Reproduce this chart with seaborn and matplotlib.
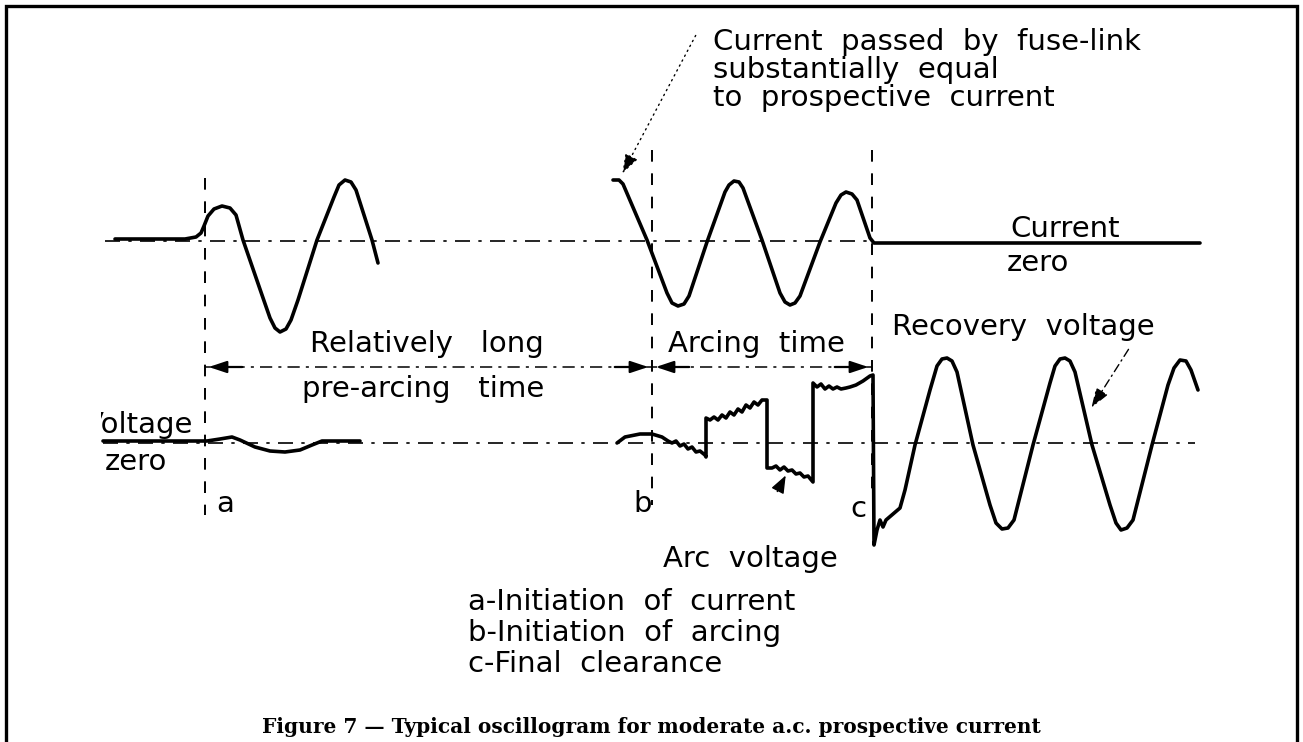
import numpy as np
import pandas as pd
import matplotlib
matplotlib.use("Agg")
import matplotlib.pyplot as plt
from matplotlib.patches import Rectangle
import seaborn as sns

# ---------------- DATA (time / level in drawing units) ----------------
# current before pre-arcing
cur1_t = [115, 150, 185, 196, 201, 204, 208, 214, 222, 230, 236, 243, 262, 270, 275, 280,
          286, 291, 298, 317, 334, 339, 345, 351, 356, 372, 378]
cur1_v = [239, 239, 239, 237, 233, 226, 216, 209, 206, 208, 215, 240, 295, 318, 328, 332,
          329, 320, 300, 240, 197, 185, 180, 182, 190, 240, 263]

# current during arcing, then current zero
cur2_t = [613, 619, 623, 647, 667, 672, 678, 684, 689, 707, 725, 729, 734, 739, 743, 762,
          780, 785, 790, 795, 800, 820, 836, 841, 846, 852, 857, 870, 874, 900, 1200]
cur2_v = [180, 180, 184, 240, 293, 303, 306, 304, 296, 242, 192, 185, 181, 182, 188, 240,
          293, 302, 305, 303, 296, 242, 203, 195, 192, 194, 200, 238, 243, 243, 243]

# voltage around initiation of current
volt1_t = [103, 207, 220, 232, 240, 255, 270, 285, 300, 312, 322, 360]
volt1_v = [441, 441, 439, 437, 440, 447, 451, 452, 450, 445, 441, 441]

# arc voltage and recovery voltage
volt2_t = [617, 625, 640, 652, 662, 668, 672, 676, 680, 684, 688, 692, 696, 700, 705, 706,
           706, 710, 714, 718, 722, 726, 730, 734, 738, 742, 746, 750, 754, 758, 762, 767,
           767, 772, 776, 780, 784, 788, 792, 796, 800, 804, 808, 813,
           813, 817, 821, 825, 829, 833, 837, 841, 846, 850, 856, 863, 870, 873,
           874, 877, 880, 883, 886, 893, 900, 905, 915, 930, 937, 942, 947, 952, 957,
           973, 990, 996, 1002, 1008, 1014, 1033, 1050, 1055, 1060, 1065, 1070, 1075,
           1092, 1110, 1116, 1121, 1127, 1133, 1152, 1168, 1174, 1180, 1186, 1191, 1198]
volt2_v = [443, 437, 434, 434, 437, 441, 443, 441, 446, 444, 449, 447, 452, 451, 455, 457,
           418, 420, 417, 420, 415, 418, 412, 415, 409, 412, 405, 408, 402, 405, 400, 400,
           468, 468, 466, 470, 467, 471, 470, 474, 473, 477, 476, 482,
           383, 387, 384, 389, 386, 389, 387, 389, 388, 387, 385, 381, 376, 375,
           545, 530, 520, 527, 520, 514, 508, 490, 445, 390, 366, 359, 358, 361, 372,
           445, 505, 523, 529, 528, 520, 445, 383, 366, 359, 358, 361, 372,
           445, 505, 523, 530, 528, 520, 445, 385, 368, 360, 361, 370, 390]

current_zero = 241
voltage_zero = 443
marks = ["a", "b", "c"]
mark_t = [205, 652, 872]
mark_top = [178, 150, 150]
mark_bottom = [515, 505, 500]
arrow_row = 367

notes_top = ["Current  passed  by  fuse-link", "substantially  equal", "to  prospective  current"]
legend_lines = ["a-Initiation  of  current", "b-Initiation  of  arcing", "c-Final  clearance"]
caption = "Figure 7 \u2014 Typical oscillogram for moderate a.c. prospective current"

# ---------------- FIGURE ----------------
sns.set_theme(style="white")
plt.rcParams["font.family"] = ["DejaVu Sans"]
plt.rcParams["text.color"] = "black"

fig = plt.figure(figsize=(13.03, 7.42), dpi=100)
ax = fig.add_axes([0, 0, 1, 1])
ax.set_xlim(0, 1303)
ax.set_ylim(742, 0)
ax.axis("off")

# frame
ax.plot([6, 6, 1297, 1297], [745, 6, 6, 745], color="black", lw=2.4, solid_joinstyle="miter")

# zero lines
ax.plot([105, 870], [current_zero, current_zero], color="black", lw=1.2, dashes=(9, 5, 2, 5))
ax.plot([103, 1195], [voltage_zero, voltage_zero], color="black", lw=1.2, dashes=(9, 5, 2, 5))

# marker verticals
for t, top, bot in zip(mark_t, mark_top, mark_bottom):
    ax.plot([t, t], [top, bot], color="black", lw=1.4, dashes=(6, 6))

# traces
trace_kw = dict(color="black", lw=2.6, sort=False, estimator=None, ax=ax)
sns.lineplot(x=cur1_t, y=cur1_v, **trace_kw)
sns.lineplot(x=cur2_t, y=cur2_v, **trace_kw)
sns.lineplot(x=volt1_t, y=volt1_v, **trace_kw)
sns.lineplot(x=volt2_t, y=volt2_v, **trace_kw)

# time spans
ax.plot([mark_t[0], mark_t[2]], [arrow_row, arrow_row], color="black", lw=1.1, dashes=(8, 4, 2, 4))
head = dict(arrowstyle="-|>,head_length=0.9,head_width=0.3", color="black", lw=1.6)
ax.annotate("", xy=(mark_t[0] + 1, arrow_row), xytext=(mark_t[0] + 40, arrow_row), arrowprops=head)
ax.annotate("", xy=(mark_t[1] - 1, arrow_row), xytext=(mark_t[1] - 40, arrow_row), arrowprops=head)
ax.annotate("", xy=(mark_t[1] + 1, arrow_row), xytext=(mark_t[1] + 40, arrow_row), arrowprops=head)
ax.annotate("", xy=(mark_t[2] - 1, arrow_row), xytext=(mark_t[2] - 40, arrow_row), arrowprops=head)

fs = 21
ax.text(310, 352, "Relatively   long", fontsize=fs, va="baseline")
ax.text(302, 397, "pre-arcing   time", fontsize=fs, va="baseline")
ax.text(668, 352, "Arcing  time", fontsize=fs, va="baseline")
ax.text(892, 335, "Recovery  voltage", fontsize=fs, va="baseline")
ax.text(1010, 237, "Current", fontsize=fs, va="baseline")
ax.text(1007, 271, "zero", fontsize=fs, va="baseline")

# labels on the left are cut by the edge of the original drawing
clip = Rectangle((101, 0), 1200, 742, transform=ax.transData, visible=False)
ax.add_patch(clip)
for s, x, y in [("Voltage", 193, 433), ("zero", 167, 470)]:
    t = ax.text(x, y, s, fontsize=fs, va="baseline", ha="right", clip_on=True)
    t.set_clip_path(clip)

for m, x, y in zip(marks, [216, 633, 850], [512, 512, 517]):
    ax.text(x, y, m, fontsize=fs, va="baseline")

ax.text(663, 567, "Arc  voltage", fontsize=fs, va="baseline")
ax.annotate("", xy=(787, 473), xytext=(776, 494),
            arrowprops=dict(arrowstyle="-|>,head_length=0.9,head_width=0.35", color="black", lw=1))

for i, s in enumerate(notes_top):
    ax.text(713, 50 + i * 28, s, fontsize=fs, va="baseline")
ax.annotate("", xy=(621, 176), xytext=(697, 33),
            arrowprops=dict(arrowstyle="-|>,head_length=1.0,head_width=0.35", color="black",
                            lw=1.0, linestyle=(0, (1, 3))))

ax.annotate("", xy=(1090, 410), xytext=(1130, 347),
            arrowprops=dict(arrowstyle="-|>,head_length=1.0,head_width=0.35", color="black",
                            lw=1.0, linestyle=(0, (6, 3, 1, 3))))

for i, s in enumerate(legend_lines):
    ax.text(468, 610 + i * 31, s, fontsize=fs, va="baseline")

ax.text(651, 733, caption, fontsize=14.5, fontweight="bold", family="DejaVu Serif",
        ha="center", va="baseline")

fig.savefig("out.png", dpi=100)
plt.close(fig)
